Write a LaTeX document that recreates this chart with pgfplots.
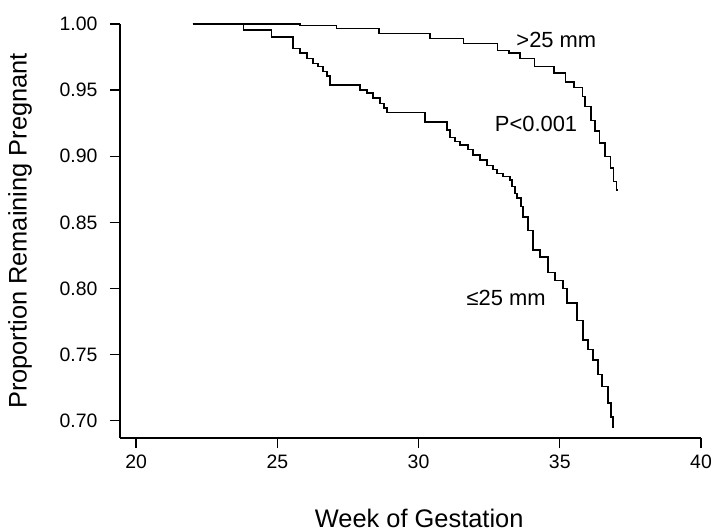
\documentclass[border=0pt]{standalone}
\usepackage{fontspec}
\setmainfont{Liberation Sans}
\usepackage{pgfplots}
\pgfplotsset{compat=1.18}
\pgfplotstableread{
x y
22.0 1.000
25.8 0.999
27.1 0.9967
28.6 0.993
30.4 0.989
31.6 0.9854
32.8 0.980
33.2 0.978
33.6 0.974
34.1 0.968
34.8 0.963
35.2 0.956
35.5 0.952
35.8 0.945
35.9 0.9375
36.1 0.927
36.25 0.919
36.4 0.910
36.6 0.900
36.8 0.891
36.9 0.881
37.0 0.8745
37.06 0.8745
}\upperdata
\pgfplotstableread{
x y
22.0 1.000
23.8 0.9955
24.8 0.990
25.56 0.9816
25.8 0.978
26.05 0.974
26.27 0.970
26.44 0.968
26.62 0.964
26.76 0.9607
26.87 0.954
27.93 0.950
28.18 0.948
28.39 0.944
28.64 0.940
28.78 0.9365
28.88 0.9330
30.23 0.926
31.0 0.920
31.12 0.914
31.29 0.911
31.47 0.9085
31.75 0.905
31.93 0.901
32.18 0.897
32.42 0.893
32.64 0.890
32.78 0.887
32.99 0.8846
33.24 0.882
33.31 0.877
33.42 0.872
33.49 0.8685
33.63 0.862
33.70 0.854
33.88 0.844
34.05 0.829
34.30 0.824
34.58 0.812
34.83 0.806
35.12 0.800
35.26 0.789
35.61 0.776
35.82 0.761
36.0 0.754
36.18 0.746
36.35 0.735
36.50 0.726
36.71 0.7135
36.82 0.703
36.88 0.6955
36.9 0.6955
}\lowerdata
\begin{document}
\begin{tikzpicture}
\path[use as bounding box] (-120bp,-94bp) rectangle (593bp,438bp);
\begin{axis}[
  at={(0,0)}, anchor=south west,
  scale only axis,
  width=581bp, height=414bp,
  xmin=19.43, xmax=40,
  ymin=0.687, ymax=1.0,
  axis lines=left,
  axis line style={-, line width=1.3bp},
  xtick={20,25,30,35,40},
  ytick={0.70,0.75,0.80,0.85,0.90,0.95,1.00},
  tick align=outside,
  major tick length=10bp,
  tick style={line width=1.3bp, black},
  /pgf/number format/assume math mode=true,
  yticklabel style={/pgf/number format/fixed, /pgf/number format/fixed zerofill, /pgf/number format/precision=2, xshift=-9bp},
  xticklabel style={yshift=-3bp},
  tick label style={font=\fontsize{19.5}{23}\selectfont},
  label style={font=\fontsize{25.5}{30}\selectfont},
  xlabel={Week of Gestation},
  ylabel={Proportion Remaining Pregnant},
  xlabel style={at={(axis description cs:0.515,-0.1932)}, anchor=center},
  ylabel style={at={(axis description cs:-0.1721,0.5)}, anchor=center},
  clip=false,
]
\addplot[const plot, black, line width=1.5bp] table[x=x,y=y] {\upperdata};
\addplot[const plot, black, line width=1.5bp] table[x=x,y=y] {\lowerdata};
\node[font=\fontsize{22}{26}\selectfont] at (axis cs:34.88,0.988) {>25 mm};
\node[font=\fontsize{22}{26}\selectfont] at (axis cs:34.16,0.9246) {P<0.001};
\node[font=\fontsize{22}{26}\selectfont] at (axis cs:33.10,0.7927) {≤25 mm};
\end{axis}
\end{tikzpicture}
\end{document}
